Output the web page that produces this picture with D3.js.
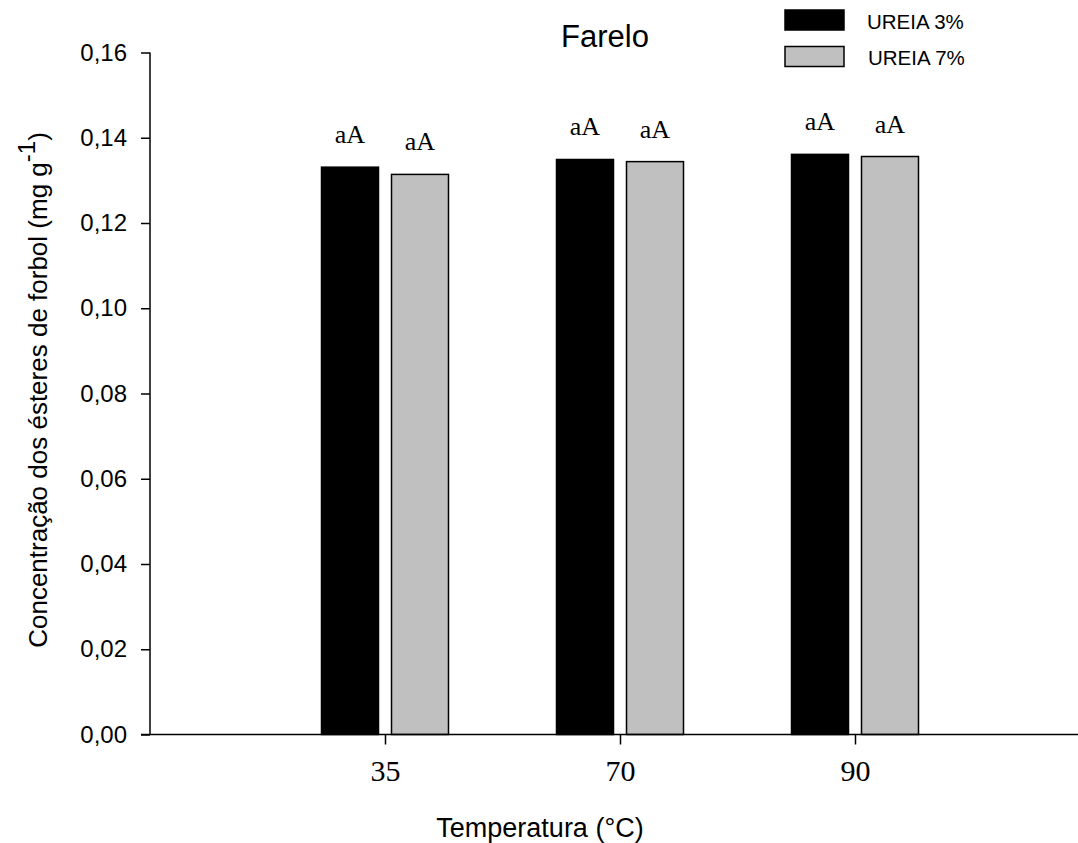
<!DOCTYPE html>
<html>
<head>
<meta charset="utf-8">
<script src="https://cdn.jsdelivr.net/npm/d3@7"></script>
<style>
  html, body { margin: 0; padding: 0; background: #fff; }
  svg { display: block; }
</style>
</head>
<body>
<svg id="chart" width="1078" height="843"></svg>
<script>
// Temperature groups and the two urea treatments
const temperatures = ["35", "70", "90"];
const seriesNames = ["UREIA 3%", "UREIA 7%"];
const ureia3 = [0.1331, 0.1349, 0.1361];
const ureia7 = [0.1314, 0.1344, 0.1356];
const letters3 = ["aA", "aA", "aA"];
const letters7 = ["aA", "aA", "aA"];
const yTicks = [0, 0.02, 0.04, 0.06, 0.08, 0.10, 0.12, 0.14, 0.16];

const svg = d3.select("#chart");
const fills = ["#000000", "#c0c0c0"];
const sans = "Liberation Sans, Arial, sans-serif";
const serif = "Liberation Serif, Times New Roman, serif";

// Scales: groups sit at positions 1..3 on a 0..4 axis
const x = d3.scaleLinear().domain([0, 4]).range([150, 1090]);
const y = d3.scaleLinear().domain([0, 0.16]).range([734.5, 52.5]);
const barW = 57, gap = 13;

const rows = temperatures.map((t, i) => ({
  t, i,
  vals: [ureia3[i], ureia7[i]],
  labs: [letters3[i], letters7[i]]
}));

// Bars with their significance letters
const g = svg.append("g");
rows.forEach(r => {
  const cx = x(r.i + 1);
  r.vals.forEach((v, k) => {
    const x0 = k === 0 ? cx - gap / 2 - barW : cx + gap / 2;
    g.append("rect")
      .attr("x", x0).attr("y", y(v))
      .attr("width", barW).attr("height", y(0) - y(v))
      .attr("fill", fills[k])
      .attr("stroke", "#000").attr("stroke-width", 1.5);
    g.append("text")
      .attr("x", x0 + barW / 2).attr("y", y(v) - 24)
      .attr("text-anchor", "middle")
      .attr("font-family", serif)
      .attr("font-size", 26)
      .attr("fill", "#000")
      .text(r.labs[k]);
  });
});

// Y axis
const yAxis = d3.axisLeft(y).tickValues(yTicks).tickSize(9).tickPadding(14)
  .tickFormat(d => d3.format(".2f")(d).replace(".", ","));
const ya = svg.append("g").attr("transform", "translate(150,0)").call(yAxis);
ya.select(".domain").attr("stroke-width", 1.5).attr("d", "M0,52.5V734.5");
ya.selectAll(".tick line").attr("stroke-width", 1.5);
ya.selectAll(".tick text")
  .attr("font-family", sans)
  .attr("font-size", 24).attr("fill", "#000");

// X axis
const xAxis = d3.axisBottom(x).tickValues([1, 2, 3]).tickSize(10).tickPadding(14)
  .tickFormat(d => temperatures[d - 1]);
const xa = svg.append("g").attr("transform", `translate(0,${y(0)})`).call(xAxis);
xa.select(".domain").attr("stroke-width", 1.5).attr("d", "M141,0H1078");
xa.selectAll(".tick line").attr("stroke-width", 1.5);
xa.selectAll(".tick text")
  .attr("font-family", serif)
  .attr("font-size", 30).attr("fill", "#000")
  .attr("dy", null).attr("y", 46);

// Title
svg.append("text")
  .attr("x", 605).attr("y", 46.5)
  .attr("text-anchor", "middle")
  .attr("font-family", sans)
  .attr("font-size", 31).attr("fill", "#000")
  .text("Farelo");

// Axis titles
svg.append("text")
  .attr("x", 540).attr("y", 837)
  .attr("text-anchor", "middle")
  .attr("font-family", sans)
  .attr("font-size", 27).attr("fill", "#000")
  .text("Temperatura (°C)");

const yt = svg.append("text")
  .attr("transform", "translate(47,390) rotate(-90)")
  .attr("text-anchor", "middle")
  .attr("font-family", sans)
  .attr("font-size", 26).attr("fill", "#000");
yt.append("tspan").text("Concentração dos ésteres de forbol (mg g");
yt.append("tspan").attr("dy", -12).attr("font-size", 24).text("-1");
yt.append("tspan").attr("dy", 12).text(")");

// Legend
const legend = svg.append("g");
seriesNames.forEach((name, k) => {
  const ly = [10, 46.5][k];
  legend.append("rect")
    .attr("x", 785).attr("y", ly).attr("width", 59).attr("height", 20)
    .attr("fill", fills[k]).attr("stroke", "#000").attr("stroke-width", 1.5);
  legend.append("text")
    .attr("x", 867 + k).attr("y", ly + 18.5)
    .attr("font-family", sans)
    .attr("font-size", 20.5).attr("fill", "#000")
    .text(name);
});
</script>
</body>
</html>
